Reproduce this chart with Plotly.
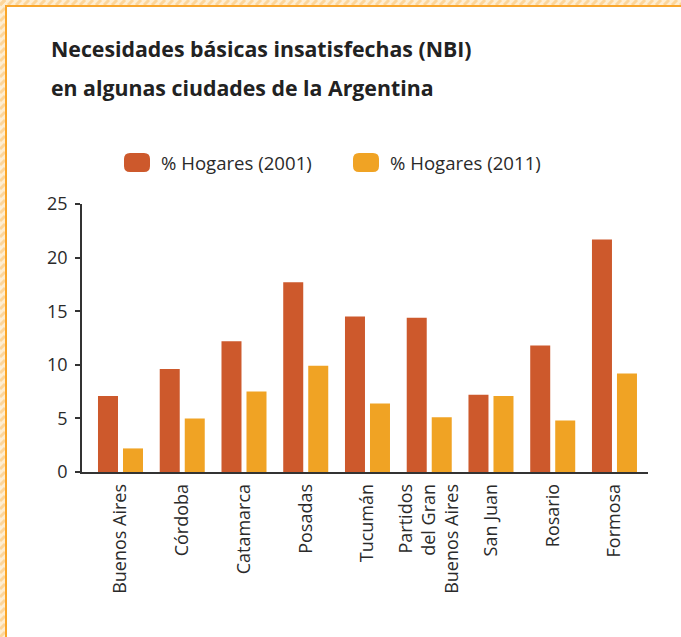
import plotly.graph_objects as go

# Data
ciudades = ["Buenos Aires", "Córdoba", "Catamarca", "Posadas", "Tucumán",
            "Partidos<br>del Gran<br>Buenos Aires", "San Juan", "Rosario", "Formosa"]
hogares_2001 = [7.1, 9.6, 12.2, 17.7, 14.5, 14.4, 7.2, 11.8, 21.7]
hogares_2011 = [2.2, 5.0, 7.5, 9.9, 6.4, 5.1, 7.1, 4.8, 9.2]
y_ticks = [0, 5, 10, 15, 20, 25]
serie_2001 = "% Hogares (2001)"
serie_2011 = "% Hogares (2011)"
titulo_1 = "Necesidades básicas insatisfechas (NBI)"
titulo_2 = "en algunas ciudades de la Argentina"

C2001 = "#CD592C"
C2011 = "#F0A324"
TXT = "#2a2a2a"
FONT = "Open Sans"

W, H = 681, 637
ML, MR, MT, MB = 82, 33, 204, 165
PW, PH = W - ML - MR, H - MT - MB


def px_x(p):
    return (p - ML) / PW


def px_y(p):
    return (H - MB - p) / PH


fig = go.Figure()
fig.add_trace(go.Bar(x=ciudades, y=hogares_2001, name=serie_2001,
                     marker=dict(color=C2001, line=dict(width=0))))
fig.add_trace(go.Bar(x=ciudades, y=hogares_2011, name=serie_2011,
                     marker=dict(color=C2011, line=dict(width=0))))

shapes = []

# Striped frame along top and left edges
BAND = 5
shapes.append(dict(type="rect", xref="paper", yref="paper",
                   x0=px_x(0), x1=px_x(W), y0=px_y(0), y1=px_y(BAND),
                   fillcolor="#FEEED2", line=dict(width=0), layer="below"))
shapes.append(dict(type="rect", xref="paper", yref="paper",
                   x0=px_x(0), x1=px_x(BAND), y0=px_y(0), y1=px_y(H),
                   fillcolor="#FEEED2", line=dict(width=0), layer="below"))
for sx in range(-8, W + 8, 8):
    shapes.append(dict(type="line", xref="paper", yref="paper",
                       x0=px_x(sx), y0=px_y(BAND), x1=px_x(sx + BAND), y1=px_y(0),
                       line=dict(color="#FDD69A", width=3), layer="below"))
for sy in range(0, H + 8, 8):
    shapes.append(dict(type="line", xref="paper", yref="paper",
                       x0=px_x(0), y0=px_y(sy + BAND), x1=px_x(BAND), y1=px_y(sy),
                       line=dict(color="#FDD69A", width=3), layer="below"))
# Solid orange rules
shapes.append(dict(type="rect", xref="paper", yref="paper",
                   x0=px_x(BAND), x1=px_x(W), y0=px_y(BAND), y1=px_y(BAND + 2),
                   fillcolor="#F9A62B", line=dict(width=0)))
shapes.append(dict(type="rect", xref="paper", yref="paper",
                   x0=px_x(BAND), x1=px_x(BAND + 2), y0=px_y(BAND), y1=px_y(H),
                   fillcolor="#F9A62B", line=dict(width=0)))


def rounded_rect(x0, y0, x1, y1, r, color):
    pts = (f"M {px_x(x0 + r)},{px_y(y0)} L {px_x(x1 - r)},{px_y(y0)} "
           f"Q {px_x(x1)},{px_y(y0)} {px_x(x1)},{px_y(y0 + r)} "
           f"L {px_x(x1)},{px_y(y1 - r)} "
           f"Q {px_x(x1)},{px_y(y1)} {px_x(x1 - r)},{px_y(y1)} "
           f"L {px_x(x0 + r)},{px_y(y1)} "
           f"Q {px_x(x0)},{px_y(y1)} {px_x(x0)},{px_y(y1 - r)} "
           f"L {px_x(x0)},{px_y(y0 + r)} "
           f"Q {px_x(x0)},{px_y(y0)} {px_x(x0 + r)},{px_y(y0)} Z")
    return dict(type="path", xref="paper", yref="paper", path=pts,
                fillcolor=color, line=dict(width=0))


# Legend swatches
shapes.append(rounded_rect(124, 153, 150, 172, 6, C2001))
shapes.append(rounded_rect(353, 153, 379, 172, 6, C2011))

annotations = [
    dict(text=f"<b>{titulo_1}</b>", xref="paper", yref="paper",
         x=px_x(49), y=px_y(48), xanchor="left", yanchor="middle",
         showarrow=False, font=dict(family=FONT, size=21.3, color="#222")),
    dict(text=f"<b>{titulo_2}</b>", xref="paper", yref="paper",
         x=px_x(49), y=px_y(87), xanchor="left", yanchor="middle",
         showarrow=False, font=dict(family=FONT, size=21.3, color="#222")),
    dict(text=serie_2001, xref="paper", yref="paper",
         x=px_x(159), y=px_y(162), xanchor="left", yanchor="middle",
         showarrow=False, font=dict(family=FONT, size=18.6, color=TXT)),
    dict(text=serie_2011, xref="paper", yref="paper",
         x=px_x(388), y=px_y(162), xanchor="left", yanchor="middle",
         showarrow=False, font=dict(family=FONT, size=18.6, color=TXT)),
]

fig.update_layout(
    width=W, height=H,
    margin=dict(l=ML, r=MR, t=MT, b=MB, pad=0),
    paper_bgcolor="white", plot_bgcolor="white",
    showlegend=False,
    barmode="group", bargap=0.19, bargroupgap=0.2,
    font=dict(family=FONT, size=18, color=TXT),
    shapes=shapes, annotations=annotations,
    xaxis=dict(type="category", range=[-0.6235, 8.543], showgrid=False,
               showline=True, linecolor="#333", linewidth=1.5, ticks="",
               tickangle=-90, tickfont=dict(size=18, color=TXT),
               ticklabelstandoff=3, zeroline=False),
    yaxis=dict(range=[0, 25], tickvals=y_ticks, showgrid=False, zeroline=False,
               showline=True, linecolor="#333", linewidth=1.5,
               ticks="outside", ticklen=5, tickwidth=1.5, tickcolor="#333",
               tickfont=dict(size=18, color=TXT), ticklabelstandoff=4),
)

fig.write_html("out.html")
